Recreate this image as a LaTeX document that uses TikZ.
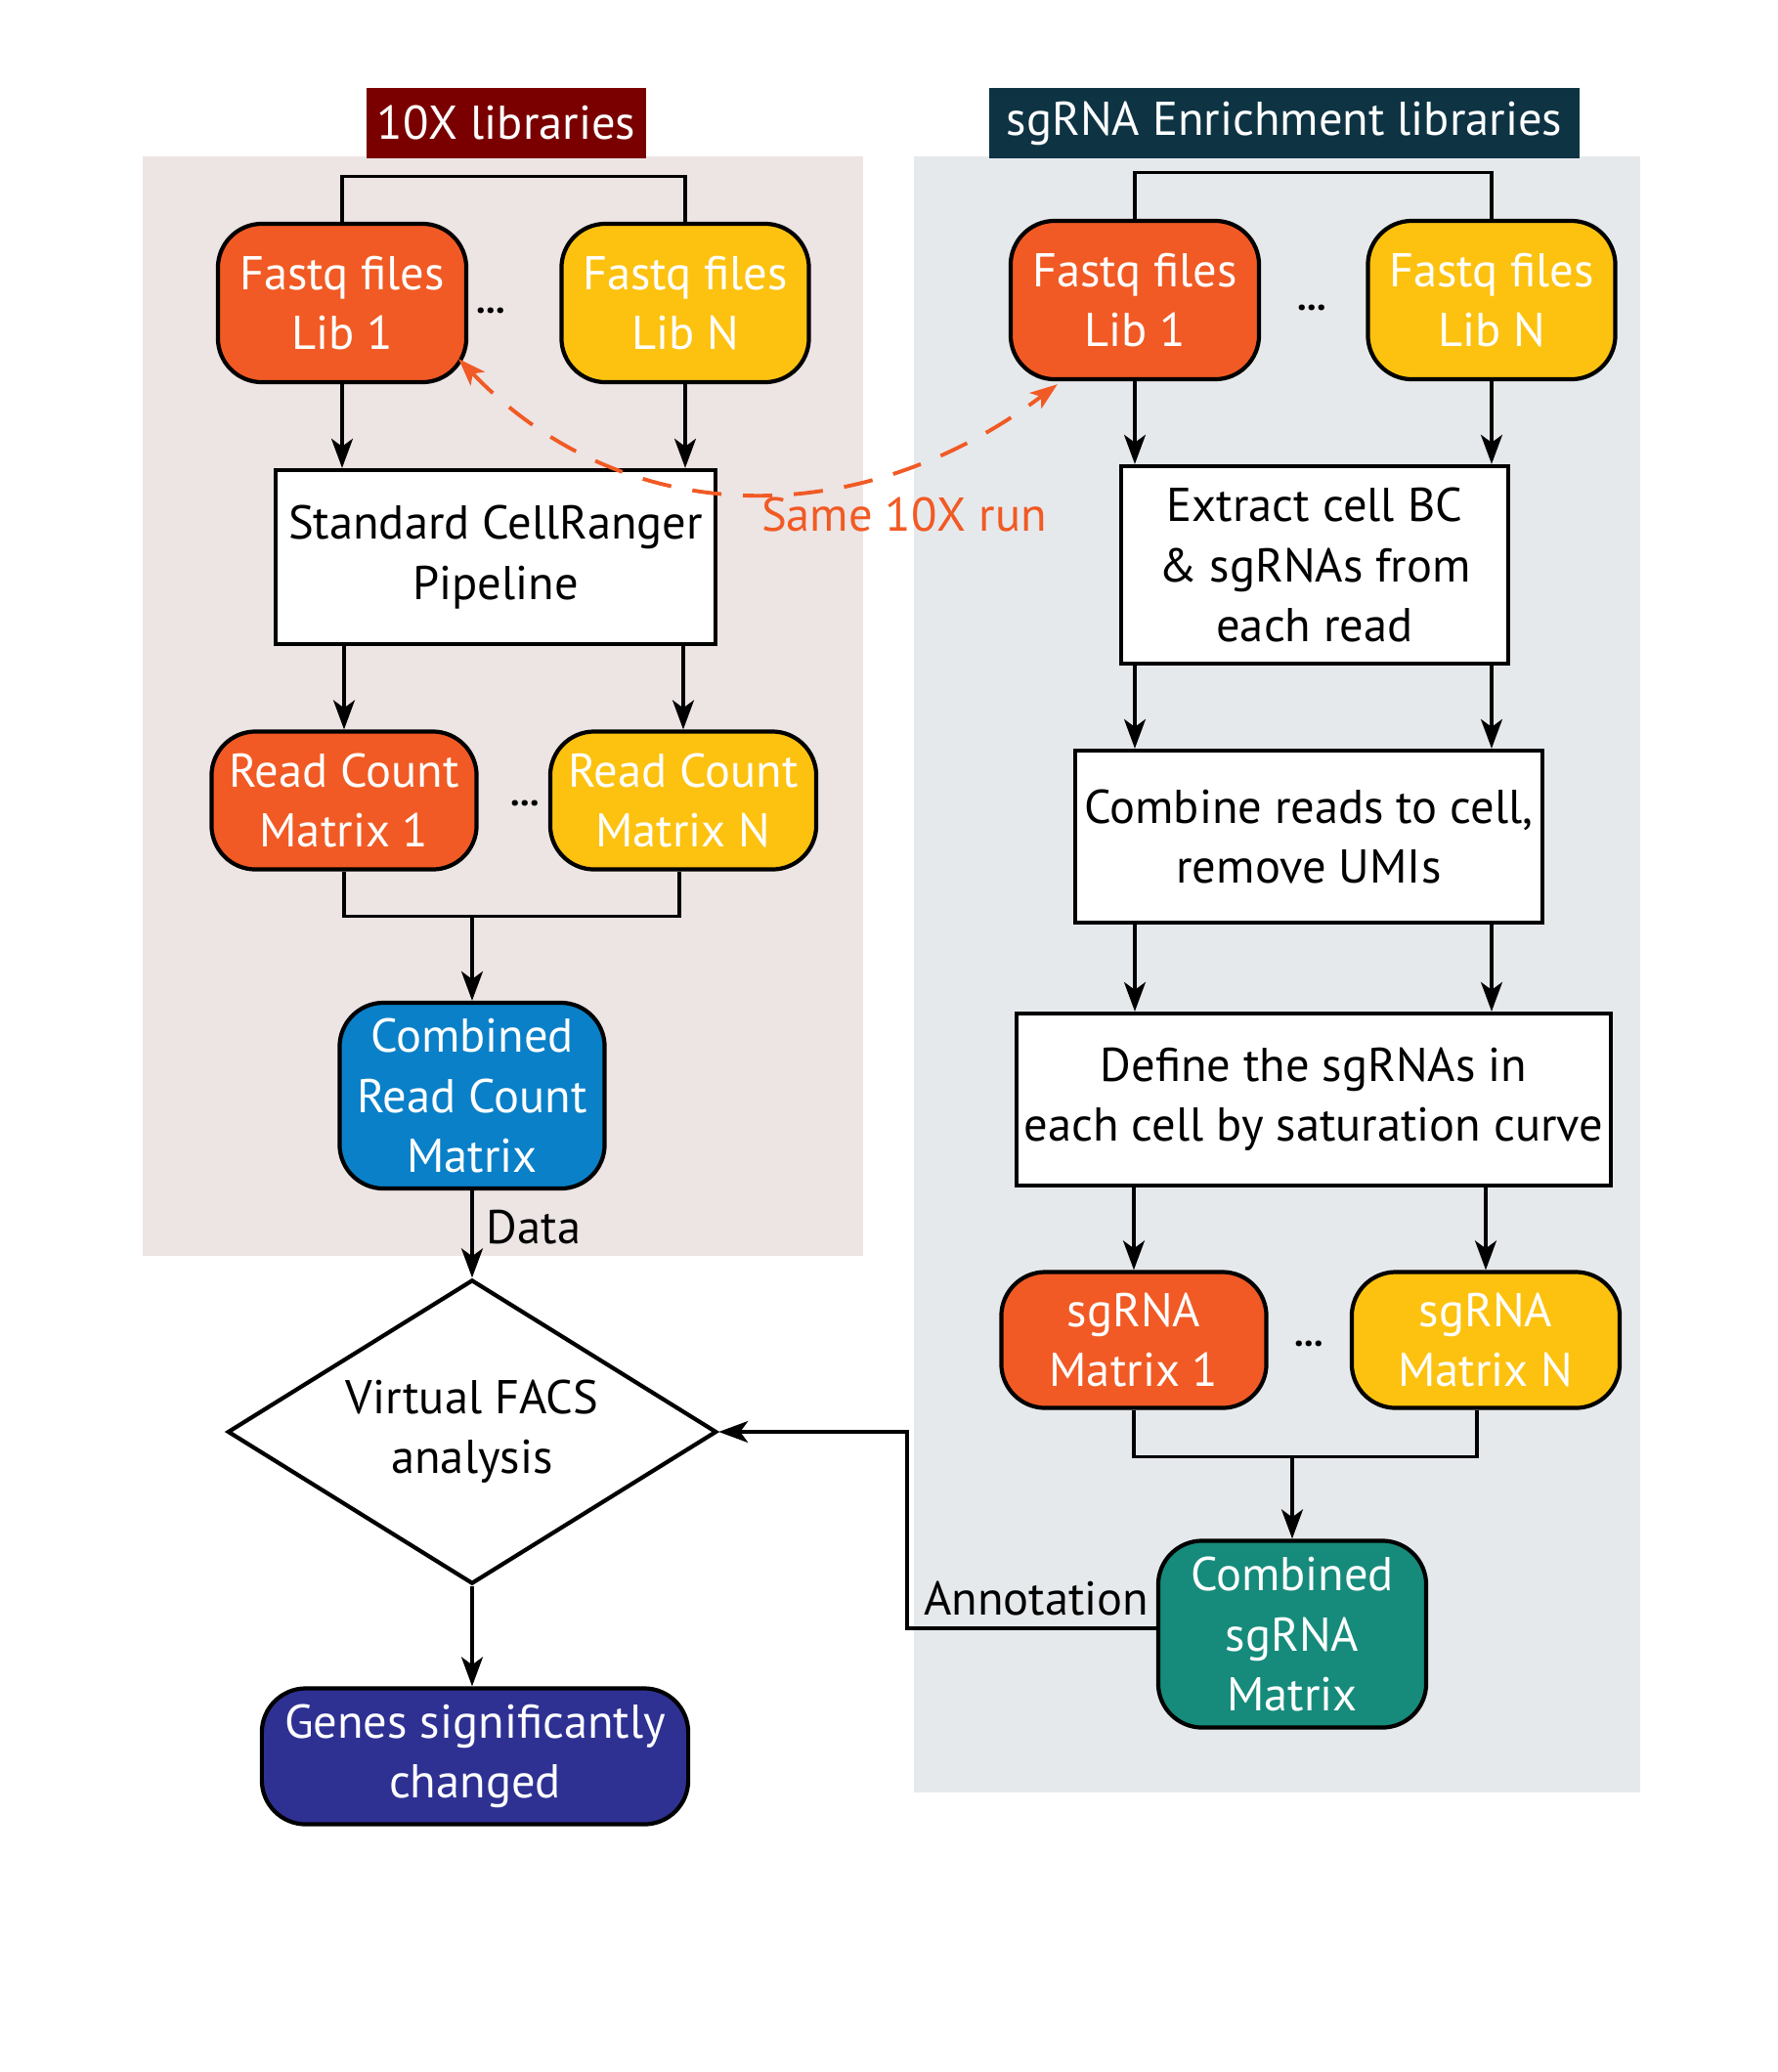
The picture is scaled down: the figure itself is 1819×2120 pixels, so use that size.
\documentclass[tikz,border=0pt]{standalone}
\usepackage{fontspec}
\setmainfont{PT Sans}
\usetikzlibrary{shapes.geometric,arrows.meta,calc}
\definecolor{corange}{HTML}{F15A24}
\definecolor{cyellow}{HTML}{FDC20F}
\definecolor{cblue}{HTML}{0A80C8}
\definecolor{cteal}{HTML}{168B7B}
\definecolor{cnavy}{HTML}{2E3192}
\definecolor{cdred}{HTML}{7A0000}
\definecolor{cdteal}{HTML}{0E3444}
\definecolor{bgleft}{HTML}{EDE4E4}
\definecolor{bgright}{HTML}{E6E9EC}
\begin{document}
\begin{tikzpicture}[x=0.01cm,y=-0.01cm,
  font=\fontsize{13.8}{17.4}\selectfont,
  rbox/.style={draw=black,line width=1.2pt,rounded corners=0.45cm,text=white,align=center,inner sep=0pt},
  sbox/.style={draw=black,line width=1.2pt,fill=white,align=center,inner sep=0pt},
  title/.style={text=white,align=center,inner sep=0pt},
  conn/.style={line width=0.9pt,-{Stealth[length=0.3cm,width=0.22cm,inset=0.08cm]}},
  plain/.style={line width=0.9pt},
  dots/.style={font=\fontsize{11}{12}\selectfont\bfseries,inner sep=0pt},
  lbl/.style={inner sep=0pt}]
\useasboundingbox (0,0) rectangle (1819,2120);
% backgrounds
\fill[bgleft] (146,160) rectangle (883,1285);
\fill[bgright] (935,160) rectangle (1678,1834);
% titles
\node[title,fill=cdred,minimum width=2.85cm,minimum height=0.71cm] (t1) at (518,126) {10X libraries};
\node[title,fill=cdteal,minimum width=6.03cm,minimum height=0.71cm] (t2) at (1314,126) {sgRNA Enrichment libraries};
% left column
\node[rbox,fill=corange,minimum width=2.54cm,minimum height=1.62cm] (L1) at (350,310) {Fastq files\\Lib 1};
\node[rbox,fill=cyellow,minimum width=2.53cm,minimum height=1.62cm] (LN) at (701,310) {Fastq files\\Lib N};
\node[dots] (ld1) at (502,318) {...};
\node[sbox,minimum width=4.49cm,minimum height=1.78cm] (LS) at (507,570) {Standard CellRanger\\Pipeline};
\node[rbox,fill=corange,minimum width=2.71cm,minimum height=1.41cm] (LR1) at (352,819) {Read Count\\Matrix 1};
\node[rbox,fill=cyellow,minimum width=2.72cm,minimum height=1.41cm] (LRN) at (699,819) {Read Count\\Matrix N};
\node[dots] (ld2) at (537,822) {...};
\node[rbox,fill=cblue,minimum width=2.71cm,minimum height=1.90cm] (LC) at (483,1121) {Combined\\Read Count\\Matrix};
\node[lbl] (datalbl) at (546,1256) {Data};
\node[diamond,aspect=1.6,draw=black,line width=1.2pt,fill=white,minimum width=5.0cm,minimum height=3.11cm,inner sep=0pt,align=center] (D) at (483,1465) {Virtual FACS\\analysis};
\node[rbox,fill=cnavy,minimum width=4.36cm,minimum height=1.39cm] (G) at (486,1797) {Genes significantly\\changed};
% right column
\node[rbox,fill=corange,minimum width=2.54cm,minimum height=1.62cm] (R1) at (1161,307) {Fastq files\\Lib 1};
\node[rbox,fill=cyellow,minimum width=2.53cm,minimum height=1.62cm] (RN) at (1526,307) {Fastq files\\Lib N};
\node[dots] (rd1) at (1342,315) {...};
\node[sbox,minimum width=3.96cm,minimum height=2.02cm] (RE) at (1345,578) {Extract cell BC\\\& sgRNAs from\\each read};
\node[sbox,minimum width=4.78cm,minimum height=1.76cm] (RC) at (1339,856) {Combine reads to cell,\\remove UMIs};
\node[sbox,minimum width=6.07cm,minimum height=1.76cm] (RD) at (1344,1125) {Define the sgRNAs in\\each cell by saturation curve};
\node[rbox,fill=corange,minimum width=2.71cm,minimum height=1.39cm] (RS1) at (1160,1371) {sgRNA\\Matrix 1};
\node[rbox,fill=cyellow,minimum width=2.74cm,minimum height=1.39cm] (RSN) at (1520,1371) {sgRNA\\Matrix N};
\node[dots] (rd2) at (1339,1375) {...};
\node[rbox,fill=cteal,minimum width=2.74cm,minimum height=1.91cm] (RCS) at (1322,1672) {Combined\\sgRNA\\Matrix};
\node[lbl,anchor=south east] (annlbl) at (1176,1654) {Annotation};
\node[lbl,text=corange] (samelbl) at (925,527) {Same 10X run};
% left connectors
\draw[plain] (L1.north) -- ++(0,-46) -| (LN.north);
\draw[conn] (L1.south) -- (L1.south |- LS.north);
\draw[conn] (LN.south) -- (LN.south |- LS.north);
\draw[conn] (LR1.north |- LS.south) -- (LR1.north);
\draw[conn] (LRN.north |- LS.south) -- (LRN.north);
\draw[plain] (LR1.south) -- ++(0,46) -| ($(LRN.south)+(-4,0)$);
\coordinate (lbr) at ($(LR1.south)+(0,46)$);
\draw[conn] (LC.north |- lbr) -- (LC.north);
\draw[conn] (LC.south) -- (D.north);
\draw[conn] (D.south) -- (D.south |- G.north);
% right connectors
\draw[plain] (R1.north) -- ++(0,-47) -| (RN.north);
\draw[conn] (R1.south) -- (R1.south |- RE.north);
\draw[conn] (RN.south) -- (RN.south |- RE.north);
\draw[conn] (R1.south |- RE.south) -- (R1.south |- RC.north);
\draw[conn] (RN.south |- RE.south) -- (RN.south |- RC.north);
\draw[conn] (R1.south |- RC.south) -- (R1.south |- RD.north);
\draw[conn] (RN.south |- RC.south) -- (RN.south |- RD.north);
\draw[conn] (RS1.north |- RD.south) -- (RS1.north);
\draw[conn] (RSN.north |- RD.south) -- (RSN.north);
\draw[plain] (RS1.south) -- ++(0,48) -| ($(RSN.south)+(-9,0)$);
\coordinate (rbr) at ($(RS1.south)+(0,48)$);
\draw[conn] (RCS.north |- rbr) -- (RCS.north);
\draw[conn] ($(RCS.west)+(0,-6)$) -- (928,1666) |- (D.east);
% same run dashed arrow
\draw[corange,line width=1.1pt,dash pattern=on 0.3cm off 0.22cm,{Stealth[length=0.28cm,width=0.2cm,inset=0.07cm]}-{Stealth[length=0.28cm,width=0.2cm,inset=0.07cm]}]
  ($(L1.south east)+(-10,-26)$) .. controls (640,545) and (880,545) .. ($(R1.south west)+(50,3)$);
\end{tikzpicture}
\end{document}
